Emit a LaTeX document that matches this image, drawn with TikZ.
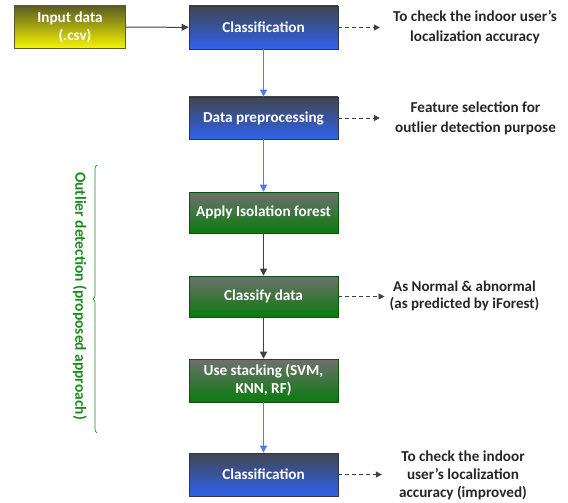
\documentclass[tikz,border=0pt]{standalone}
\usepackage{fontspec}
\setmainfont{Carlito}
\usetikzlibrary{arrows.meta,decorations.pathreplacing}
\definecolor{bluetop}{HTML}{41454F}
\definecolor{bluebot}{HTML}{2F62EE}
\definecolor{greentop}{HTML}{6F6F6F}
\definecolor{greenbot}{HTML}{0A7B0C}
\definecolor{yeltop}{HTML}{5A5A24}
\definecolor{yelbot}{HTML}{F6F600}
\definecolor{txtgray}{HTML}{262626}
\definecolor{arrblue}{HTML}{4A7BFF}
\definecolor{arrgray}{HTML}{404040}
\definecolor{bracegreen}{HTML}{1C8C1C}
\tikzset{
  box/.style={rectangle, minimum width=149pt, minimum height=43pt, inner sep=0pt,
    text=white, font=\bfseries\fontsize{15.2}{18}\selectfont, align=center},
  bluebox/.style={box, top color=bluetop, bottom color=bluebot, draw=bluetop!80!black, line width=0.8pt},
  greenbox/.style={box, top color=greentop, bottom color=greenbot, draw=greenbot!70!black, line width=0.6pt},
  yelbox/.style={box, minimum width=111pt, top color=yeltop, bottom color=yelbot, draw=yeltop, line width=0.8pt},
  side/.style={font=\bfseries\fontsize{15.2}{20}\selectfont, text=txtgray, align=center, inner sep=0pt},
  barrow/.style={draw=arrblue, line width=1pt, -{Triangle[length=7pt,width=7pt]}},
  garrow/.style={draw=arrgray, line width=1pt, -{Triangle[length=7pt,width=7pt]}},
  darrow/.style={draw=arrgray, line width=0.9pt, dashed, dash pattern=on 4pt off 3pt, -{Triangle[length=6pt,width=6pt]}},
}
\begin{document}
\begin{tikzpicture}[x=1pt,y=-1pt]
\useasboundingbox (0,0) rectangle (568,503);
\node[yelbox] (in) at (70,27) {Input data\\\hspace*{10pt}(.csv)};
\node[bluebox] (c1) at (263.5,27.5) {Classification};
\node[bluebox, minimum height=42pt] (dp) at (263.5,118) {Data preprocessing};
\node[greenbox, minimum height=41pt] (af) at (263.5,212.5) {Apply Isolation forest};
\node[greenbox, minimum height=41pt] (cd) at (263.5,296.5) {Classify data};
\node[greenbox] (us) at (263.5,380.5) {Use stacking (SVM,\\KNN, RF)};
\node[bluebox] (c2) at (263.5,474.5) {Classification};

\node[side] (l1) at (475,27) {To check the indoor user’s\\localization accuracy};
\node[side] (l2) at (475.5,118) {Feature selection for\\outlier detection purpose};
\node[side, font=\bfseries\fontsize{15}{17.5}\selectfont] (l3) at (464.5,296) {As Normal \& abnormal\\(as predicted by iForest)};
\node[side, font=\bfseries\fontsize{15.2}{18}\selectfont] (l4) at (463,475) {To check the indoor\\user’s localization\\accuracy (improved)};

\draw[garrow] (in) -- (c1);
\draw[barrow] (c1) -- (dp);
\draw[barrow] (dp) -- (af);
\draw[garrow] (af) -- (cd);
\draw[garrow] (cd) -- (us);
\draw[barrow] (us) -- (c2);

\draw[darrow, shorten >=13pt] (c1.east) -- (c1.east -| l1.west);
\draw[darrow, shorten >=15pt] (dp.east) -- (dp.east -| l2.west);
\draw[darrow, shorten >=5pt] (cd.east) -- (cd.east -| l3.west);
\draw[darrow, shorten >=17pt] (c2.east) -- (c2.east -| l4.west);

\coordinate (bt) at (97,165);
\coordinate (bb) at (97,433);
\draw[draw=bracegreen, line width=0.7pt, decorate, decoration={brace, amplitude=4pt, aspect=0.5}] (bb) -- (bt);
\node[rotate=-90, font=\bfseries\fontsize{15.5}{18}\selectfont, text=bracegreen, inner sep=0pt] (bl) at (80,296) {Outlier detection (proposed approach)};
\end{tikzpicture}
\end{document}
